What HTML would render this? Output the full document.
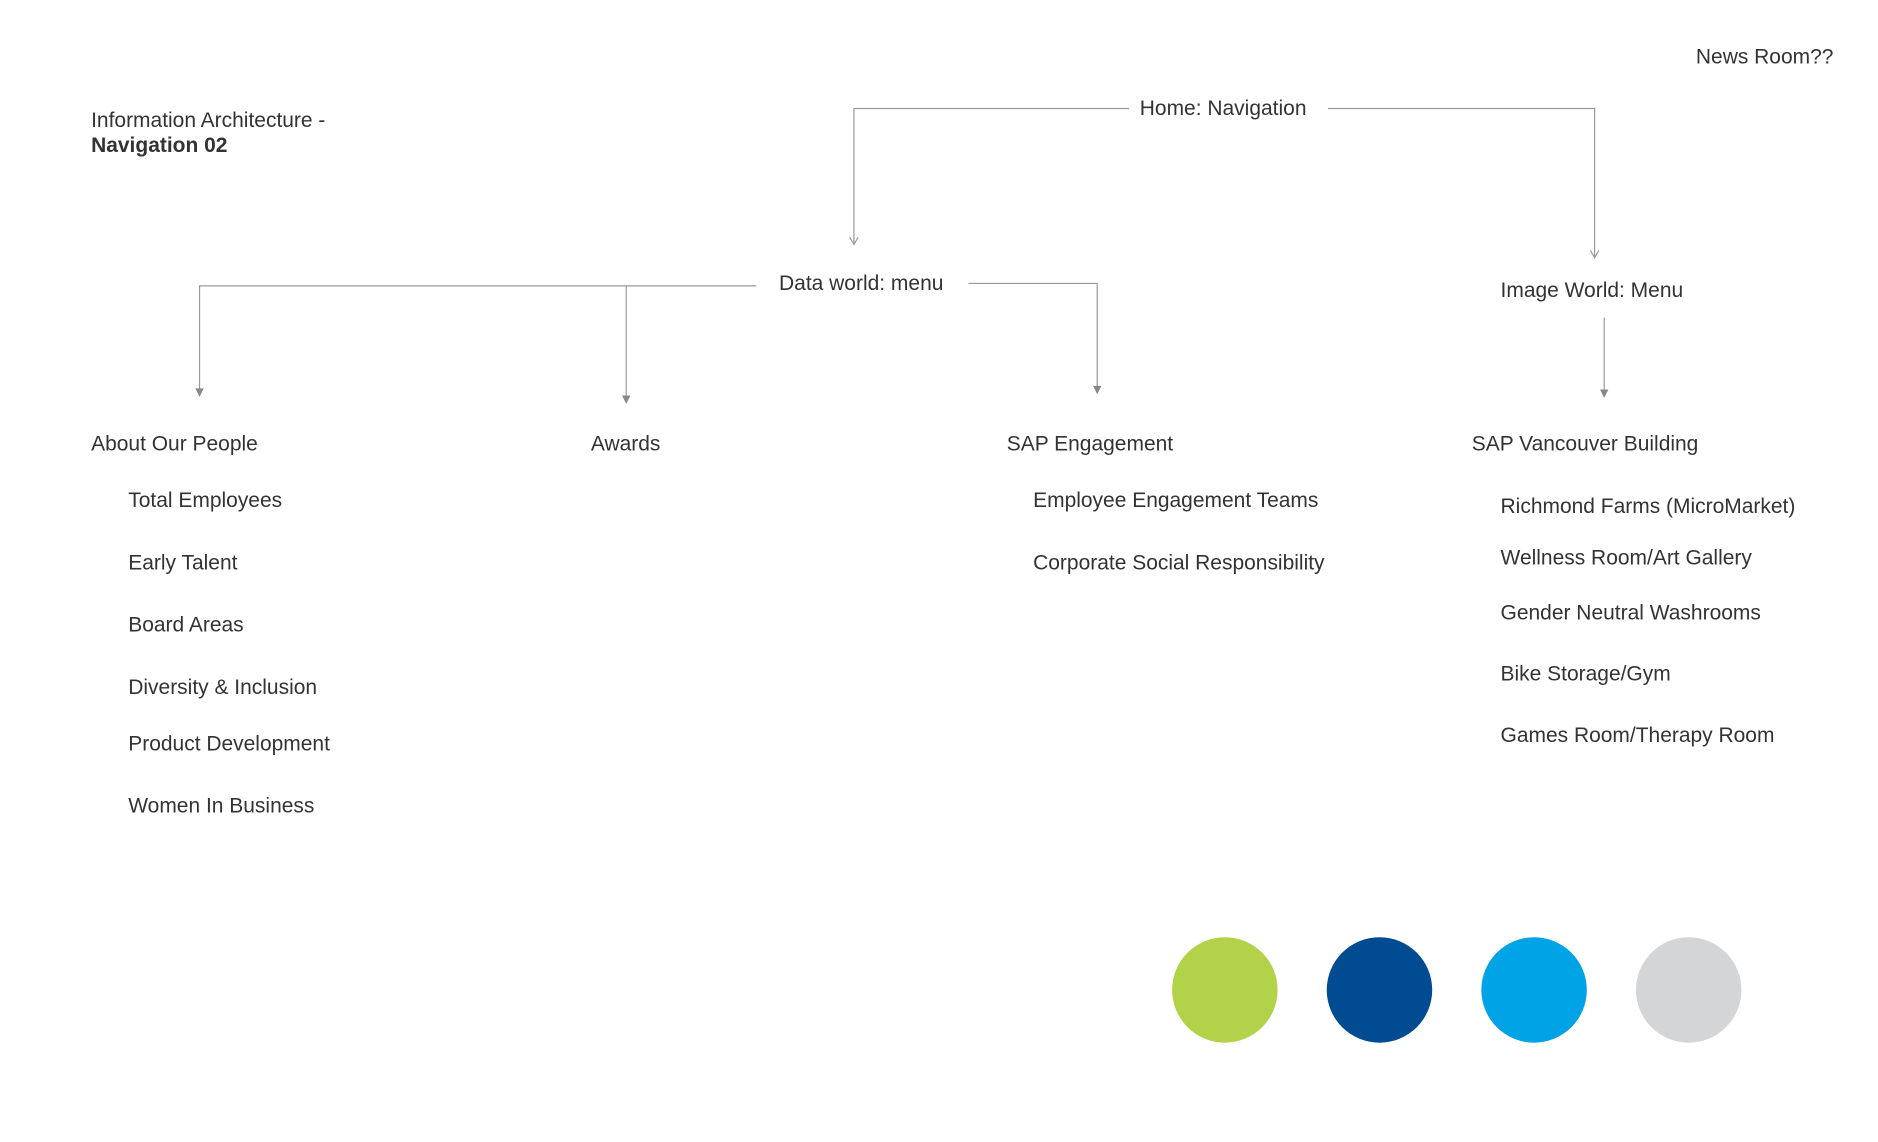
<!DOCTYPE html>
<html><head><meta charset="utf-8"><style>
html,body{margin:0;padding:0;background:#fff;width:1878px;height:1142px;overflow:hidden}
#s{position:absolute;left:0;top:0;width:1568px;height:953px;transform:scale(1.1985);transform-origin:0 0;font-family:"Liberation Sans",sans-serif;color:#333;font-size:17.5px}
.t{position:absolute;white-space:nowrap;line-height:20px}
svg{position:absolute;left:0;top:0}
</style></head><body><div id="s">
<svg width="1568" height="953" viewBox="0 0 1568 953">
<g stroke="#999" stroke-width="1" fill="none">
<path d="M942 90.5H712.5V203"/>
<path d="M1108 90.5H1330.5V214"/>
<path d="M631 238.5H166.5V328"/>
<path d="M522.5 238.5V334"/>
<path d="M808 236.5H915.5V326"/>
<path d="M1338.5 265V329"/>
</g>
<g stroke="#999" fill="none" stroke-width="1"><path d="M709 198l3.5 6 3.5-6"/><path d="M1327 209l3.5 6 3.5-6"/></g>
<g fill="#888"><path d="M163 324l3.5 7 3.5-7z"/><path d="M519 330l3.5 7 3.5-7z"/><path d="M912 322l3.5 7 3.5-7z"/><path d="M1335 325l3.5 7 3.5-7z"/></g>
<circle cx="1022" cy="826" r="44" fill="#b1d249"/>
<circle cx="1151" cy="826" r="44" fill="#004b91"/>
<circle cx="1280" cy="826" r="44" fill="#00a3e6"/>
<circle cx="1409" cy="826" r="44" fill="#d4d5d6"/>
</svg>
<div class="t" style="left:1415px;top:37px">News Room??</div>
<div class="t" style="left:76px;top:90px">Information Architecture -</div>
<div class="t" style="left:76px;top:111px;font-weight:bold">Navigation 02</div>
<div class="t" style="left:951px;top:80px">Home: Navigation</div>
<div class="t" style="left:650px;top:226px">Data world: menu</div>
<div class="t" style="left:1252px;top:232px">Image World: Menu</div>
<div class="t" style="left:76px;top:360px">About Our People</div>
<div class="t" style="left:493px;top:360px">Awards</div>
<div class="t" style="left:840px;top:360px">SAP Engagement</div>
<div class="t" style="left:1228px;top:360px">SAP Vancouver Building</div>
<div class="t" style="left:107px;top:407px">Total Employees</div>
<div class="t" style="left:107px;top:459px">Early Talent</div>
<div class="t" style="left:107px;top:511px">Board Areas</div>
<div class="t" style="left:107px;top:563px">Diversity &amp; Inclusion</div>
<div class="t" style="left:107px;top:610px">Product Development</div>
<div class="t" style="left:107px;top:662px">Women In Business</div>
<div class="t" style="left:862px;top:407px">Employee Engagement Teams</div>
<div class="t" style="left:862px;top:459px">Corporate Social Responsibility</div>
<div class="t" style="left:1252px;top:412px">Richmond Farms (MicroMarket)</div>
<div class="t" style="left:1252px;top:455px">Wellness Room/Art Gallery</div>
<div class="t" style="left:1252px;top:501px">Gender Neutral Washrooms</div>
<div class="t" style="left:1252px;top:552px">Bike Storage/Gym</div>
<div class="t" style="left:1252px;top:603px">Games Room/Therapy Room</div>
</div></body></html>
